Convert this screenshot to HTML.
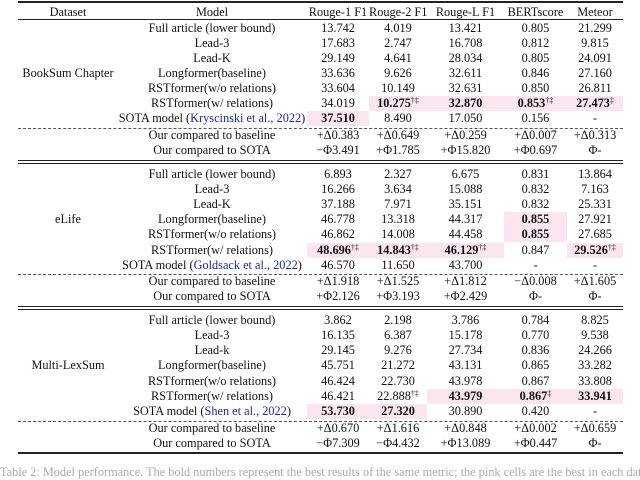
<!DOCTYPE html>
<html><head><meta charset="utf-8"><style>
body{margin:0;background:#fff;width:640px;height:472px;overflow:hidden;position:relative;font-family:"Liberation Serif",serif;font-size:12.3px;color:#111}
.r{position:absolute;left:0;width:640px;height:15px;line-height:15px}
.r span{position:absolute;top:0;height:15px;text-align:center;white-space:nowrap}
.c0{left:18px;width:100px}.c1{left:118px;width:188px}.c2{left:307px;width:62px}.c3{left:369px;width:58px}.c4{left:427px;width:77px}.c5{left:504px;width:63px}.c6{left:567px;width:56px}
.p{background:#fbe6f0}
b{font-weight:bold}
sup{font-size:8px;line-height:0;vertical-align:4px}
.l{position:absolute;left:18px;width:605px;background:#222}
.d{position:absolute;left:18px;width:605px;border-top:1px dashed #555;height:0}
a{color:#1a2aa0;text-decoration:none}
.ds{position:absolute;left:18px;width:100px;text-align:center}
</style></head><body>
<div class="l" style="top:1px;height:2px"></div>
<div class="r" style="top:5px"><span class="c0">Dataset</span><span class="c1">Model</span><span class="c2">Rouge-1 F1</span><span class="c3">Rouge-2 F1</span><span class="c4">Rouge-L F1</span><span class="c5">BERTscore</span><span class="c6">Meteor</span></div>
<div class="l" style="top:19px;height:1px"></div>

<div class="ds" style="top:66px">BookSum Chapter</div>
<div class="r" style="top:21px"><span class="c1">Full article (lower bound)</span><span class="c2">13.742</span><span class="c3">4.019</span><span class="c4">13.421</span><span class="c5">0.805</span><span class="c6">21.299</span></div>
<div class="r" style="top:36px"><span class="c1">Lead-3</span><span class="c2">17.683</span><span class="c3">2.747</span><span class="c4">16.708</span><span class="c5">0.812</span><span class="c6">9.815</span></div>
<div class="r" style="top:51px"><span class="c1">Lead-K</span><span class="c2">29.149</span><span class="c3">4.641</span><span class="c4">28.034</span><span class="c5">0.805</span><span class="c6">24.091</span></div>
<div class="r" style="top:66px"><span class="c1">Longformer(baseline)</span><span class="c2">33.636</span><span class="c3">9.626</span><span class="c4">32.611</span><span class="c5">0.846</span><span class="c6">27.160</span></div>
<div class="r" style="top:81px"><span class="c1">RSTformer(w/o relations)</span><span class="c2">33.604</span><span class="c3">10.149</span><span class="c4">32.631</span><span class="c5">0.850</span><span class="c6">26.811</span></div>
<div class="r" style="top:96px"><span class="c1">RSTformer(w/ relations)</span><span class="c2">34.019</span><span class="c3 p"><b>10.275</b><sup>†‡</sup></span><span class="c4 p"><b>32.870</b></span><span class="c5 p"><b>0.853</b><sup>†‡</sup></span><span class="c6 p"><b>27.473</b><sup>‡</sup></span></div>
<div class="r" style="top:111px"><span class="c1">SOTA model (<a>Kryscinski et al., 2022</a>)</span><span class="c2 p"><b>37.510</b></span><span class="c3">8.490</span><span class="c4">17.050</span><span class="c5">0.156</span><span class="c6">-</span></div>
<div class="d" style="top:128px"></div>
<div class="r" style="top:128px"><span class="c1">Our compared to baseline</span><span class="c2">+Δ0.383</span><span class="c3">+Δ0.649</span><span class="c4">+Δ0.259</span><span class="c5">+Δ0.007</span><span class="c6">+Δ0.313</span></div>
<div class="r" style="top:143px"><span class="c1">Our compared to SOTA</span><span class="c2">−Φ3.491</span><span class="c3">+Φ1.785</span><span class="c4">+Φ15.820</span><span class="c5">+Φ0.697</span><span class="c6">Φ-</span></div>
<div class="l" style="top:160px;height:1px"></div><div class="l" style="top:163px;height:1px"></div>

<div class="ds" style="top:212px">eLife</div>
<div class="r" style="top:167px"><span class="c1">Full article (lower bound)</span><span class="c2">6.893</span><span class="c3">2.327</span><span class="c4">6.675</span><span class="c5">0.831</span><span class="c6">13.864</span></div>
<div class="r" style="top:182px"><span class="c1">Lead-3</span><span class="c2">16.266</span><span class="c3">3.634</span><span class="c4">15.088</span><span class="c5">0.832</span><span class="c6">7.163</span></div>
<div class="r" style="top:197px"><span class="c1">Lead-K</span><span class="c2">37.188</span><span class="c3">7.971</span><span class="c4">35.151</span><span class="c5">0.832</span><span class="c6">25.331</span></div>
<div class="r" style="top:212px;height:16px"><span class="c1">Longformer(baseline)</span><span class="c2">46.778</span><span class="c3">13.318</span><span class="c4">44.317</span><span class="c5 p" style="height:16px"><b>0.855</b></span><span class="c6">27.921</span></div>
<div class="r" style="top:227px"><span class="c1">RSTformer(w/o relations)</span><span class="c2">46.862</span><span class="c3">14.008</span><span class="c4">44.458</span><span class="c5 p"><b>0.855</b></span><span class="c6">27.685</span></div>
<div class="r" style="top:243px"><span class="c1">RSTformer(w/ relations)</span><span class="c2 p"><b>48.696</b><sup>†‡</sup></span><span class="c3 p"><b>14.843</b><sup>†‡</sup></span><span class="c4 p"><b>46.129</b><sup>†‡</sup></span><span class="c5">0.847</span><span class="c6 p"><b>29.526</b><sup>†‡</sup></span></div>
<div class="r" style="top:258px"><span class="c1">SOTA model (<a>Goldsack et al., 2022</a>)</span><span class="c2">46.570</span><span class="c3">11.650</span><span class="c4">43.700</span><span class="c5">-</span><span class="c6">-</span></div>
<div class="d" style="top:274px"></div>
<div class="r" style="top:274px"><span class="c1">Our compared to baseline</span><span class="c2">+Δ1.918</span><span class="c3">+Δ1.525</span><span class="c4">+Δ1.812</span><span class="c5">−Δ0.008</span><span class="c6">+Δ1.605</span></div>
<div class="r" style="top:289px"><span class="c1">Our compared to SOTA</span><span class="c2">+Φ2.126</span><span class="c3">+Φ3.193</span><span class="c4">+Φ2.429</span><span class="c5">Φ-</span><span class="c6">Φ-</span></div>
<div class="l" style="top:306px;height:1px"></div><div class="l" style="top:309px;height:1px"></div>

<div class="ds" style="top:358px">Multi-LexSum</div>
<div class="r" style="top:313px"><span class="c1">Full article (lower bound)</span><span class="c2">3.862</span><span class="c3">2.198</span><span class="c4">3.786</span><span class="c5">0.784</span><span class="c6">8.825</span></div>
<div class="r" style="top:328px"><span class="c1">Lead-3</span><span class="c2">16.135</span><span class="c3">6.387</span><span class="c4">15.178</span><span class="c5">0.770</span><span class="c6">9.538</span></div>
<div class="r" style="top:343px"><span class="c1">Lead-k</span><span class="c2">29.145</span><span class="c3">9.276</span><span class="c4">27.734</span><span class="c5">0.836</span><span class="c6">24.266</span></div>
<div class="r" style="top:358px"><span class="c1">Longformer(baseline)</span><span class="c2">45.751</span><span class="c3">21.272</span><span class="c4">43.131</span><span class="c5">0.865</span><span class="c6">33.282</span></div>
<div class="r" style="top:374px"><span class="c1">RSTformer(w/o relations)</span><span class="c2">46.424</span><span class="c3">22.730</span><span class="c4">43.978</span><span class="c5">0.867</span><span class="c6">33.808</span></div>
<div class="r" style="top:389px"><span class="c1">RSTformer(w/ relations)</span><span class="c2">46.421</span><span class="c3">22.888<sup>†‡</sup></span><span class="c4 p"><b>43.979</b></span><span class="c5 p"><b>0.867</b><sup>‡</sup></span><span class="c6 p"><b>33.941</b></span></div>
<div class="r" style="top:404px"><span class="c1">SOTA model (<a>Shen et al., 2022</a>)</span><span class="c2 p"><b>53.730</b></span><span class="c3 p"><b>27.320</b></span><span class="c4">30.890</span><span class="c5">0.420</span><span class="c6">-</span></div>
<div class="d" style="top:421px"></div>
<div class="r" style="top:421px"><span class="c1">Our compared to baseline</span><span class="c2">+Δ0.670</span><span class="c3">+Δ1.616</span><span class="c4">+Δ0.848</span><span class="c5">+Δ0.002</span><span class="c6">+Δ0.659</span></div>
<div class="r" style="top:436px"><span class="c1">Our compared to SOTA</span><span class="c2">−Φ7.309</span><span class="c3">−Φ4.432</span><span class="c4">+Φ13.089</span><span class="c5">+Φ0.447</span><span class="c6">Φ-</span></div>
<div class="l" style="top:452px;height:2px"></div>
<div style="position:absolute;left:0;top:465px;color:#aaa;white-space:nowrap">Table 2: Model performance. The bold numbers represent the best results of the same metric; the pink cells are the best in each dataset</div>
</body></html>
